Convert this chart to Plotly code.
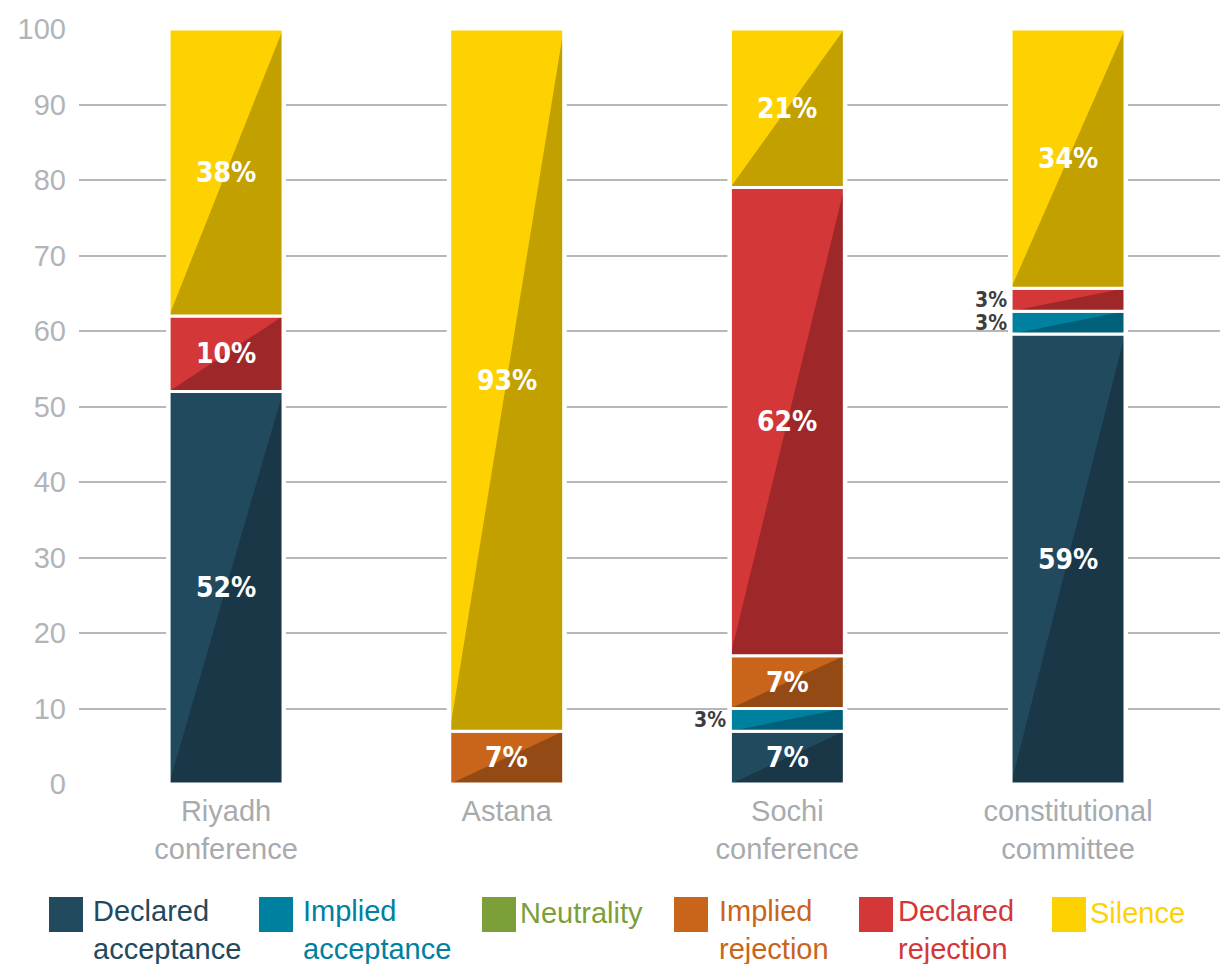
import plotly.graph_objects as go

# Positions taken by each peace process in the sampled statements (percent)
categories = ["Riyadh<br>conference", "Astana", "Sochi<br>conference", "constitutional<br>committee"]
series_names = ["Declared<br>acceptance", "Implied<br>acceptance", "Neutrality",
                "Implied<br>rejection", "Declared<br>rejection", "Silence"]
declared_acceptance = [52, 0, 7, 59]
implied_acceptance = [0, 0, 3, 3]
neutrality = [0, 0, 0, 0]
implied_rejection = [0, 7, 7, 0]
declared_rejection = [10, 0, 62, 3]
silence = [38, 93, 21, 34]
y_ticks = [0, 10, 20, 30, 40, 50, 60, 70, 80, 90, 100]

series = [declared_acceptance, implied_acceptance, neutrality,
          implied_rejection, declared_rejection, silence]
light = ["#224a5e", "#00809f", "#7c9f3a", "#c8651b", "#d43737", "#fdd200"]
dark = ["#1a3748", "#006079", "#5d7a2a", "#944a14", "#9e272a", "#c1a000"]

W, H = 1220, 964
ML, MR, MT, MB = 79, 0, 29, 180
PW, PH = W - ML - MR, H - MT - MB
X_RANGE = [-0.524, 3.5415]
BAR_W = 0.406
X_PER_PX = (X_RANGE[1] - X_RANGE[0]) / PW
Y_PER_PX = 100 / PH

LABEL_FONT = "Liberation Sans Narrow, DejaVu Sans Condensed, sans-serif"
AXIS_FONT = "Liberation Sans, Arial, sans-serif"

fig = go.Figure()
annotations = []
shapes = []

for i, cat in enumerate(categories):
    vals = [s[i] for s in series]
    total = sum(vals)
    x0, x1 = i - BAR_W / 2, i + BAR_W / 2
    # white backing to break the gridlines around each bar
    px, py = 3 * X_PER_PX, 3 * Y_PER_PX
    fig.add_trace(go.Scatter(
        x=[x0 - px, x1 + px, x1 + px, x0 - px, x0 - px],
        y=[-py, -py, 100 + py, 100 + py, -py],
        mode="lines", fill="toself", fillcolor="white",
        line=dict(width=0, color="white"), cliponaxis=False,
        hoverinfo="skip", showlegend=False))
    base = 0.0
    for k, v in enumerate(vals):
        if v <= 0:
            continue
        h = v / total * 100
        y0, y1 = base, base + h
        # lighter full segment
        fig.add_trace(go.Scatter(
            x=[x0, x1, x1, x0, x0], y=[y0, y0, y1, y1, y0],
            mode="lines", fill="toself", fillcolor=light[k],
            line=dict(width=0, color=light[k]),
            hoverinfo="skip", showlegend=False))
        # darker lower-right half
        fig.add_trace(go.Scatter(
            x=[x0, x1, x1, x0], y=[y0, y0, y1, y0],
            mode="lines", fill="toself", fillcolor=dark[k],
            line=dict(width=0, color=dark[k]),
            hoverinfo="skip", showlegend=False))
        # white separator outline
        fig.add_trace(go.Scatter(
            x=[x0, x1, x1, x0, x0], y=[y0, y0, y1, y1, y0],
            mode="lines", line=dict(width=3, color="white"),
            cliponaxis=False, hoverinfo="skip", showlegend=False))
        mid = (y0 + y1) / 2
        if v >= 5:
            annotations.append(dict(
                x=i, y=mid, xref="x", yref="y", text=f"{v}%", showarrow=False,
                borderpad=0,
                font=dict(family=LABEL_FONT, size=28, color="white", weight="bold")))
        else:
            annotations.append(dict(
                x=x0, y=mid, xref="x", yref="y", text=f"{v}%", showarrow=False,
                xanchor="right", xshift=-3, borderpad=0,
                font=dict(family=LABEL_FONT, size=21, color="#3d3d3d", weight="bold")))
        base = y1


def paper_x(px):
    return (px - ML) / PW


def paper_y(py):
    return (H - MB - py) / PH


# legend drawn as swatches with coloured captions
legend_sq_x = [49, 259, 482, 674, 859, 1052]
legend_tx_x = [91, 301, 518, 717, 896, 1088]
for k, name in enumerate(series_names):
    shapes.append(dict(
        type="rect", xref="paper", yref="paper", layer="above",
        x0=paper_x(legend_sq_x[k]), x1=paper_x(legend_sq_x[k] + 34),
        y0=paper_y(932), y1=paper_y(897),
        fillcolor=light[k], line=dict(width=0)))
    two_line = "<br>" in name
    annotations.append(dict(
        x=paper_x(legend_tx_x[k]), y=paper_y(930 if two_line else 913),
        xref="paper", yref="paper", xanchor="left", yanchor="middle",
        align="left", text=name, showarrow=False,
        font=dict(family=AXIS_FONT, size=29, color=light[k])))

fig.update_layout(
    width=W, height=H,
    margin=dict(l=ML, r=MR, t=MT, b=MB),
    paper_bgcolor="white", plot_bgcolor="white",
    showlegend=False,
    annotations=annotations, shapes=shapes,
    xaxis=dict(
        range=X_RANGE, tickmode="array", tickvals=list(range(len(categories))),
        ticktext=categories, showgrid=False, zeroline=False, showline=False,
        ticks="", ticklabelstandoff=7,
        tickfont=dict(family=AXIS_FONT, size=29, color="#a8abae")),
    yaxis=dict(
        range=[0, 100], tickmode="array", tickvals=y_ticks,
        showgrid=True, gridcolor="#b5b7bb", gridwidth=2,
        zeroline=False, showline=False, ticks="", ticklabelstandoff=12,
        tickfont=dict(family=AXIS_FONT, size=29, color="#b1b4b8")),
)

fig.write_html("out.html")
